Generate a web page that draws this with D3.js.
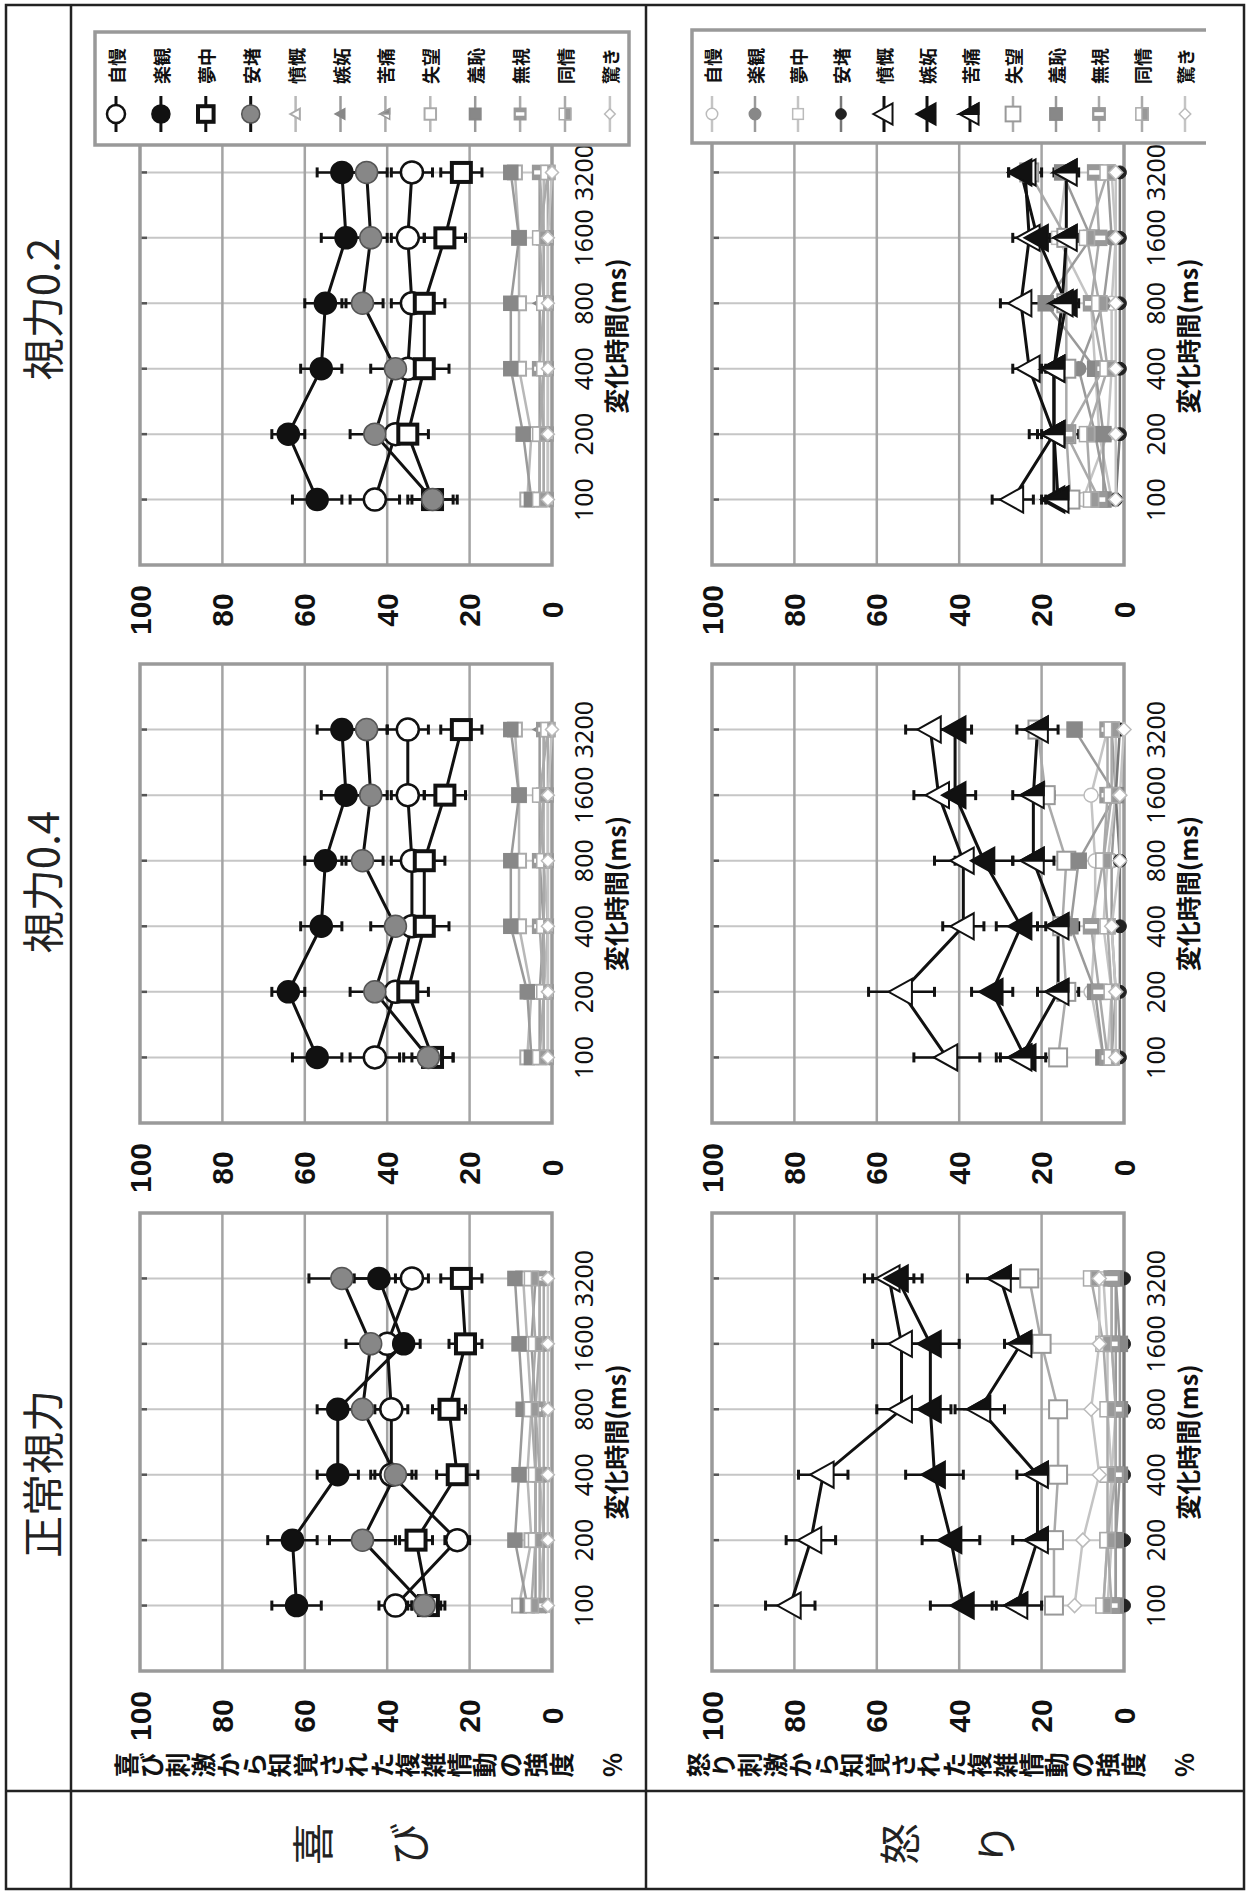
<!DOCTYPE html>
<html lang="ja">
<head>
<meta charset="UTF-8">
<title>複雑情動の強度</title>
<script src="https://d3js.org/d3.v7.min.js"></script>
<style>
  body { margin: 0; background: #fff; }
  text { font-family: "Noto Sans CJK JP", sans-serif; }
  .num { font-family: "Liberation Sans", Arial, sans-serif; font-weight: bold; }
  .tick { font-family: "Noto Sans", sans-serif; }
</style>
</head>
<body>
<script>
// ---- data ----
const times = [100, 200, 400, 800, 1600, 3200];
const emotions = ["自慢", "楽観", "夢中", "安堵", "憤慨", "嫉妬", "苦痛", "失望", "羞恥", "無視", "同情", "驚き"];
const columns = ["正常視力", "視力0.4", "視力0.2"];
const rowNames = ["喜び", "怒り"];
const yTicks = [0, 20, 40, 60, 80, 100];

// rows follow `emotions`
const joyNormal = [
  [38, 23, 39, 39, 40, 34],
  [62, 63, 52, 52, 36, 42],
  [30, 33, 23, 25, 21, 22],
  [31, 46, 38, 46, 44, 51],
  [3, 2, 3, 3, 3, 3],
  [4, 4, 4, 4, 5, 4],
  [2, 2, 2, 2, 2, 2],
  [8, 5, 6, 5, 6, 7],
  [6, 9, 8, 7, 8, 9],
  [3, 3, 3, 4, 3, 3],
  [5, 4, 4, 5, 4, 5],
  [1, 1, 1, 1, 1, 1]
];
const joyV04 = [
  [43, 38, 34, 34, 35, 35],
  [57, 64, 56, 55, 50, 51],
  [29, 35, 31, 31, 26, 22],
  [30, 43, 38, 46, 44, 45],
  [2, 2, 1, 2, 2, 2],
  [3, 3, 2, 3, 3, 3],
  [1, 1, 1, 1, 1, 1],
  [6, 5, 8, 8, 8, 9],
  [5, 6, 10, 10, 8, 10],
  [2, 2, 3, 3, 2, 2],
  [3, 2, 2, 2, 3, 1],
  [1, 1, 1, 1, 1, 0]
];
const joyV02 = [
  [43, 38, 35, 34, 35, 34],
  [57, 64, 56, 55, 50, 51],
  [29, 35, 31, 31, 26, 22],
  [29, 43, 38, 46, 44, 45],
  [2, 2, 2, 2, 2, 2],
  [3, 3, 3, 3, 3, 3],
  [1, 1, 1, 1, 1, 1],
  [6, 5, 8, 8, 8, 9],
  [5, 7, 10, 10, 8, 10],
  [2, 2, 3, 2, 2, 3],
  [3, 3, 2, 2, 3, 1],
  [1, 1, 1, 1, 1, 0]
];
const angerNormal = [
  [4, 3, 3, 2, 3, 3],
  [2, 2, 2, 2, 2, 2],
  [5, 4, 3, 4, 4, 5],
  [0, 0, 0, 0, 0, 0],
  [81, 76, 73, 54, 54, 57],
  [39, 42, 46, 47, 47, 55],
  [26, 21, 21, 35, 25, 30],
  [17, 17, 16, 16, 20, 23],
  [2, 2, 1, 1, 1, 2],
  [3, 4, 2, 2, 3, 3],
  [5, 4, 4, 4, 5, 8],
  [12, 10, 6, 8, 6, 6]
];
const angerV04 = [
  [5, 8, 7, 7, 8, 4],
  [3, 2, 3, 3, 2, 3],
  [4, 3, 5, 4, 2, 2],
  [1, 1, 1, 1, 2, 1],
  [43, 54, 39, 39, 45, 47],
  [24, 32, 25, 34, 41, 41],
  [25, 16, 16, 22, 22, 21],
  [16, 14, 15, 14, 19, 21],
  [5, 7, 13, 11, 2, 12],
  [4, 6, 8, 5, 4, 4],
  [3, 3, 4, 5, 3, 3],
  [2, 2, 3, 1, 1, 0]
];
const angerV02 = [
  [10, 4, 3, 3, 2, 3],
  [4, 7, 11, 5, 3, 4],
  [3, 6, 7, 8, 16, 14],
  [2, 1, 1, 1, 1, 1],
  [27, 17, 23, 25, 23, 24],
  [17, 17, 17, 14, 21, 25],
  [16, 17, 17, 15, 14, 14],
  [13, 14, 14, 14, 14, 23],
  [5, 5, 7, 19, 8, 15],
  [6, 14, 5, 8, 6, 7],
  [8, 9, 4, 6, 9, 4],
  [2, 2, 2, 2, 2, 2]
];

// error bars (±) for the highlighted series only
const joyMain = [0, 1, 2, 3];
const angerMain = [4, 5, 6];
const joyNormalErr = [[4, 3, 5, 4, 4, 4], [6, 6, 5, 5, 4, 6], [4, 4, 5, 4, 4, 5], [4, 8, 5, 5, 6, 8]];
const joyV04Err = [[6, 5, 5, 5, 4, 5], [6, 4, 5, 5, 6, 6], [5, 5, 6, 5, 5, 5], [6, 6, 6, 5, 4, 5]];
const joyV02Err = [[6, 5, 5, 5, 4, 5], [6, 4, 5, 5, 6, 6], [5, 5, 6, 5, 5, 5], [6, 6, 6, 5, 4, 5]];
const angerNormalErr = [[6, 6, 6, 6, 7, 6], [8, 7, 7, 5, 7, 6], [6, 6, 5, 6, 4, 8]];
const angerV04Err = [[8, 8, 5, 7, 6, 6], [6, 5, 6, 7, 5, 4], [6, 5, 5, 5, 5, 5]];
const angerV02Err = [[5, 6, 4, 5, 4, 4], [3, 4, 4, 3, 3, 3], [3, 3, 3, 3, 3, 3]];

// ---- styles ----
const joyStyles = [
  {shape: "circle", size: 22, fill: "#fff", stroke: "#111", sw: 2.5, line: "#111", lw: 3},
  {shape: "circle", size: 22, fill: "#111", stroke: "#111", sw: 1.5, line: "#111", lw: 3},
  {shape: "square", size: 19, fill: "#fff", stroke: "#111", sw: 4, line: "#111", lw: 3},
  {shape: "circle", size: 22, fill: "#878787", stroke: "#555", sw: 1.5, line: "#111", lw: 3},
  {shape: "triangle", size: 13, fill: "#fff", stroke: "#aaa", sw: 2, line: "#b8b8b8", lw: 2.5},
  {shape: "triangle", size: 13, fill: "#888", stroke: "#888", sw: 1.5, line: "#9a9a9a", lw: 2.5},
  {shape: "halftri", size: 13, fill: "#888", stroke: "#999", sw: 1.5, line: "#aaa", lw: 2.5},
  {shape: "square", size: 14, fill: "#fff", stroke: "#aaa", sw: 2, line: "#b8b8b8", lw: 2.5},
  {shape: "square", size: 14, fill: "#888", stroke: "#888", sw: 1.5, line: "#9a9a9a", lw: 2.5},
  {shape: "stripe", size: 14, fill: "#999", stroke: "#999", sw: 1.5, line: "#aaa", lw: 2.5},
  {shape: "halfsq", size: 14, fill: "#999", stroke: "#aaa", sw: 1.5, line: "#aaa", lw: 2.5},
  {shape: "diamond", size: 13, fill: "#fff", stroke: "#bbb", sw: 1.5, line: "#c4c4c4", lw: 2.5}
];
const angerStyles = [
  {shape: "circle", size: 14, fill: "#fff", stroke: "#bbb", sw: 1.5, line: "#c4c4c4", lw: 2.5},
  {shape: "circle", size: 14, fill: "#888", stroke: "#888", sw: 1.5, line: "#9a9a9a", lw: 2.5},
  {shape: "square", size: 13, fill: "#fff", stroke: "#bbb", sw: 1.5, line: "#c4c4c4", lw: 2.5},
  {shape: "circle", size: 13, fill: "#222", stroke: "#222", sw: 1, line: "#777", lw: 2.5},
  {shape: "triangle", size: 26, fill: "#fff", stroke: "#111", sw: 2, line: "#111", lw: 3},
  {shape: "triangle", size: 26, fill: "#111", stroke: "#111", sw: 2, line: "#111", lw: 3},
  {shape: "halftri", size: 26, fill: "#111", stroke: "#111", sw: 2, line: "#111", lw: 3},
  {shape: "square", size: 18, fill: "#fff", stroke: "#999", sw: 2, line: "#aaa", lw: 2.5},
  {shape: "square", size: 15, fill: "#888", stroke: "#888", sw: 1.5, line: "#9a9a9a", lw: 2.5},
  {shape: "stripe", size: 15, fill: "#999", stroke: "#999", sw: 1.5, line: "#aaa", lw: 2.5},
  {shape: "halfsq", size: 15, fill: "#999", stroke: "#aaa", sw: 1.5, line: "#aaa", lw: 2.5},
  {shape: "diamond", size: 14, fill: "#fff", stroke: "#bbb", sw: 1.5, line: "#c4c4c4", lw: 2.5}
];

const chartData = [[joyNormal, joyV04, joyV02], [angerNormal, angerV04, angerV02]];
const chartErr = [[joyNormalErr, joyV04Err, joyV02Err], [angerNormalErr, angerV04Err, angerV02Err]];
const rowStyles = [joyStyles, angerStyles];
const rowMain = [joyMain, angerMain];

// ---- layout (drawn unrotated, then turned 90° counter-clockwise) ----
const W = 1248, H = 1892;
const colFrames = [[221, 679], [769, 1228], [1327, 1785]];
const rowFrames = [[140, 552], [712, 1124]];
const headerX = [418, 1010, 1583];

const svg = d3.select("body").append("svg").attr("width", W).attr("height", H);
svg.append("rect").attr("width", W).attr("height", H).attr("fill", "#fff");
const g = svg.append("g").attr("transform", `translate(0,${H}) rotate(-90)`);

// table lines
const tl = g.append("g").attr("stroke", "#222").attr("stroke-width", 2.5).attr("fill", "none");
tl.append("rect").attr("x", 3).attr("y", 6).attr("width", 1884).attr("height", 1238);
tl.append("line").attr("x1", 3).attr("x2", 1887).attr("y1", 71).attr("y2", 71);
tl.append("line").attr("x1", 3).attr("x2", 1887).attr("y1", 646).attr("y2", 646);
tl.append("line").attr("x1", 101).attr("x2", 101).attr("y1", 6).attr("y2", 1244);

columns.forEach((c, i) => {
  g.append("text").attr("x", headerX[i]).attr("y", 40)
    .attr("text-anchor", "middle").attr("dominant-baseline", "central")
    .attr("font-size", 42).attr("fill", "#222").text(c);
});

rowNames.forEach((r, i) => {
  const mid = (i === 0 ? (71 + 646) / 2 : (646 + 1244) / 2);
  Array.from(r).forEach((ch, k) => {
    g.append("text").attr("x", 48).attr("y", mid + (k === 0 ? -48 : 48))
      .attr("text-anchor", "middle").attr("dominant-baseline", "central")
      .attr("font-size", 42).attr("fill", "#222").text(ch);
  });
});

function marker(sel, st, cx, cy, k) {
  const s = st.size * k;
  const m = sel.append("g").attr("transform", `translate(${cx},${cy})`)
    .attr("stroke", st.stroke).attr("stroke-width", st.sw);
  const h = s / 2;
  if (st.shape === "circle") {
    m.append("circle").attr("r", h).attr("fill", st.fill);
  } else if (st.shape === "square") {
    m.append("rect").attr("x", -h).attr("y", -h).attr("width", s).attr("height", s).attr("fill", st.fill);
  } else if (st.shape === "triangle") {
    m.append("path").attr("d", `M0,${-h}L${h},${h * 0.8}L${-h},${h * 0.8}Z`).attr("fill", st.fill);
  } else if (st.shape === "halftri") {
    m.append("path").attr("d", `M0,${-h}L${h},${h * 0.8}L${-h},${h * 0.8}Z`).attr("fill", "#fff");
    m.append("path").attr("d", `M0,${-h}L${h},${h * 0.8}L0,${h * 0.8}Z`).attr("fill", st.fill);
  } else if (st.shape === "diamond") {
    m.append("path").attr("d", `M0,${-h}L${h},0L0,${h}L${-h},0Z`).attr("fill", st.fill);
  } else if (st.shape === "stripe") {
    m.append("rect").attr("x", -h).attr("y", -h).attr("width", s).attr("height", s).attr("fill", st.fill);
    m.append("rect").attr("x", -s * 0.15).attr("y", -h + 1.5).attr("width", s * 0.3).attr("height", s - 3)
      .attr("fill", "#fff").attr("stroke", "none");
  } else if (st.shape === "halfsq") {
    m.append("rect").attr("x", -h).attr("y", -h).attr("width", s).attr("height", s).attr("fill", "#fff");
    m.append("rect").attr("x", -h).attr("y", 0).attr("width", s).attr("height", h).attr("fill", st.fill);
  }
}

const yTitles = ["喜び刺激から知覚された複雑情動の強度 %", "怒り刺激から知覚された複雑情動の強度 %"];

rowFrames.forEach((rf, r) => {
  colFrames.forEach((cf, c) => {
    const data = chartData[r][c];
    const errs = chartErr[r][c];
    const styles = rowStyles[r];
    const main = rowMain[r];
    const x = d3.scalePoint().domain(times).range(cf).padding(1);
    const y = d3.scaleLinear().domain([0, 100]).range([rf[1], rf[0]]);
    const ch = g.append("g");

    // time grid
    times.forEach(t => {
      ch.append("line").attr("x1", x(t)).attr("x2", x(t)).attr("y1", y(100)).attr("y2", y(0))
        .attr("stroke", "#c6c6c6").attr("stroke-width", 2);
      ch.append("line").attr("x1", x(t)).attr("x2", x(t)).attr("y1", y(100)).attr("y2", y(100) + 7)
        .attr("stroke", "#555").attr("stroke-width", 2.5);
    });
    // value grid
    yTicks.filter(v => v > 0 && v < 100).forEach(v => {
      ch.append("line").attr("x1", cf[0]).attr("x2", cf[1]).attr("y1", y(v)).attr("y2", y(v))
        .attr("stroke", "#a4a4a4").attr("stroke-width", 2.5);
    });
    ch.append("rect").attr("x", cf[0]).attr("y", rf[0]).attr("width", cf[1] - cf[0]).attr("height", rf[1] - rf[0])
      .attr("fill", "none").attr("stroke", "#9a9a9a").attr("stroke-width", 3.5);

    // value tick labels
    yTicks.forEach(v => {
      ch.append("text").attr("class", "num").attr("x", cf[0] - 45).attr("y", y(v))
        .attr("text-anchor", "middle").attr("dominant-baseline", "central")
        .attr("font-size", 30).attr("fill", "#111").text(v);
    });
    // time tick labels
    times.forEach(t => {
      ch.append("text").attr("class", "tick").attr("x", x(t)).attr("y", rf[1] + 31)
        .attr("text-anchor", "middle").attr("dominant-baseline", "central")
        .attr("font-size", 25).attr("fill", "#111").text(t);
    });
    ch.append("text").attr("x", (cf[0] + cf[1]) / 2).attr("y", rf[1] + 63)
      .attr("text-anchor", "middle").attr("dominant-baseline", "central")
      .attr("font-size", 25).attr("font-weight", "bold").attr("fill", "#111").text("変化時間(ms)");

    if (c === 0) {
      Array.from(yTitles[r]).forEach((chr, k) => {
        ch.append("text").attr("x", 127).attr("y", rf[0] - 28 + 25.6 * (k + 0.5))
          .attr("text-anchor", "middle").attr("dominant-baseline", "central")
          .attr("font-size", 25).attr("font-weight", "bold").attr("fill", "#111").text(chr);
      });
    }

    const order = d3.range(emotions.length).filter(i => !main.includes(i)).concat(main);
    const line = d3.line().x((d, i) => x(times[i])).y(d => y(d));

    // gray series first, then highlighted ones
    order.forEach(i => {
      const st = styles[i];
      const sg = ch.append("g");
      sg.append("path").attr("d", line(data[i])).attr("fill", "none")
        .attr("stroke", st.line).attr("stroke-width", st.lw);
      const mi = main.indexOf(i);
      if (mi >= 0) {
        data[i].forEach((v, j) => {
          const e = errs[mi][j];
          const xx = x(times[j]);
          sg.append("line").attr("x1", xx).attr("x2", xx).attr("y1", y(v - e)).attr("y2", y(v + e))
            .attr("stroke", st.line).attr("stroke-width", 2.5);
          [v - e, v + e].forEach(b => {
            sg.append("line").attr("x1", xx - 5).attr("x2", xx + 5).attr("y1", y(b)).attr("y2", y(b))
              .attr("stroke", st.line).attr("stroke-width", 3);
          });
        });
      }
    });
    order.forEach(i => {
      data[i].forEach((v, j) => marker(ch, styles[i], x(times[j]), y(v), 1));
    });
  });
});

// legends (right side of the 視力0.2 charts)
const legendBoxes = [
  {x0: 1747, x1: 1860, y0: 95, y1: 629, y: 116, step: 44.9, closed: true},
  {x0: 1749, x1: 1862, y0: 692, y1: 1206, y: 712, step: 43, closed: false}
];
legendBoxes.forEach((lb, r) => {
  const lg = g.append("g");
  lg.append("rect").attr("x", lb.x0).attr("y", lb.y0).attr("width", lb.x1 - lb.x0).attr("height", lb.y1 - lb.y0)
    .attr("fill", "#fff").attr("stroke", "none");
  const edge = lb.closed
    ? `M${lb.x0},${lb.y0}H${lb.x1}V${lb.y1}H${lb.x0}Z`
    : `M${lb.x0},${lb.y1}V${lb.y0}H${lb.x1}V${lb.y1}`;
  lg.append("path").attr("d", edge).attr("fill", "none").attr("stroke", "#999").attr("stroke-width", 3.5);
  emotions.forEach((name, i) => {
    const st = rowStyles[r][i];
    const yy = lb.y + lb.step * i;
    lg.append("line").attr("x1", 1760).attr("x2", 1796).attr("y1", yy).attr("y2", yy)
      .attr("stroke", st.line).attr("stroke-width", st.lw);
    marker(lg, st, 1778, yy, 0.82);
    lg.append("text").attr("x", 1808).attr("y", yy)
      .attr("dominant-baseline", "central").attr("font-size", 18).attr("font-weight", "bold")
      .attr("fill", "#111").text(name);
  });
});
</script>
</body>
</html>
